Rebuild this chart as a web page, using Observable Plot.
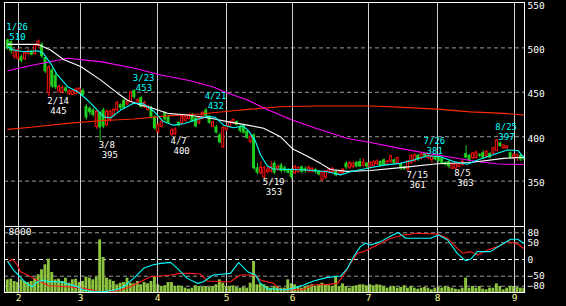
<!DOCTYPE html>
<html><head><meta charset="utf-8">
<script src="https://cdn.jsdelivr.net/npm/d3@7"></script>
<script src="https://cdn.jsdelivr.net/npm/@observablehq/plot@0.6"></script>
<style>
html,body{margin:0;padding:0;background:#000;}
#chart{position:relative;width:566px;height:306px;background:#000;overflow:hidden;}
#chart svg{position:absolute;left:0;top:0;}
</style></head><body><div id="chart"></div>
<script>
// ---- data (trading-day index 0 = 1/26) ----
const openP = [509,507,490,488,490,487,493,496,493,502, 504,489,449,475,469,451,450,455,448,447, 448,449,452,434,432,430,411,427,430,413, 419,424,430,436,441,436,439,452,437,444, 433,430,432,422,405,411,427,422,402,403, 416,415,418,420,424,421,415,420,430,423, 411,411,402,388,408,411,415,417,411,413, 406,394,402,365,359,354,360,361,370,363, 368,365,363,363,359,360,366,364,361,361, 363,361,351,354,360,360,361,357,359,370, 365,366,371,372,367,370,365,367,369,372, 374,368,372,374,370,369,366,363,370,372, 379,376,381,376,374,377,378,376,371,372, 364,364,366,368,381,379,376,376,380,382, 378,381,381,384,393,387,387,382,376,376, 379,377];
const highP = [510,508,498,499,492,496,498,497,504,509, 506,490,480,477,472,458,457,456,453,453, 455,455,454,436,434,432,430,428,432,430, 430,432,440,437,442,441,451,453,443,445, 440,435,434,424,415,419,428,424,409,410, 417,424,423,426,426,422,422,428,432,424, 417,413,404,411,414,418,420,418,413,414, 407,402,403,370,372,366,367,372,372,368, 370,367,364,364,368,366,367,366,367,365, 364,362,361,362,364,365,362,361,364,372, 372,371,372,375,375,371,372,373,374,373, 375,373,379,375,377,370,367,373,380,381, 380,381,381,380,379,378,378,376,372,373, 370,370,370,373,390,380,382,384,381,384, 384,382,388,397,394,391,390,383,381,380, 380,378];
const lowP = [497,493,487,486,483,486,492,491,492,500, 488,471,445,454,453,449,448,449,446,446, 447,448,446,419,424,422,408,395,409,411, 416,422,428,430,431,435,438,442,436,432, 432,429,420,407,403,410,417,414,400,401, 411,414,416,419,416,410,414,419,422,414, 410,403,392,387,406,410,414,412,404,403, 397,392,362,357,357,353,358,359,357,361, 359,359,358,352,357,359,358,359,359,359, 358,356,350,352,358,358,355,356,358,363, 363,364,365,365,366,364,364,366,368,366, 367,367,370,369,369,362,362,361,369,371, 372,374,376,374,370,373,371,369,367,364, 363,363,365,367,375,371,374,375,376,375, 376,375,380,383,388,386,386,375,374,372, 372,373];
const closeP = [500,496,497,497,485,494,496,492,503,507, 490,473,478,456,455,456,455,451,451,451, 453,454,446,421,427,424,428,410,411,428, 428,430,438,432,432,439,450,444,441,433, 438,433,422,409,413,417,419,415,407,408, 412,422,422,424,417,411,421,427,423,415, 416,404,393,410,412,416,419,413,406,404, 398,400,364,359,365,365,363,365,359,366, 361,361,359,354,366,365,360,361,365,364, 360,357,360,361,363,364,356,360,363,365, 370,370,366,366,371,366,370,371,372,367, 368,372,378,370,376,364,363,372,378,379, 374,380,378,379,378,374,372,370,368,366, 369,369,369,372,376,373,381,382,378,376, 383,376,387,396,389,390,389,376,379,379, 374,374];
const volume = [1718,1808,1490,1356,1718,1490,1356,1490,1944,2396, 3074,3752,4520,2712,1718,1808,1490,1944,1266,1718, 1808,1356,1490,2080,1944,1718,2080,7140,4746,1944, 1718,1490,1040,1266,1356,1944,1266,1175,1490,1040, 1356,1175,1490,2080,1040,814,904,1356,1356,814, 904,814,588,452,588,904,814,723,814,678, 814,1040,1718,1266,814,814,904,678,588,678, 588,1266,4204,1040,1175,1040,814,588,814,814, 588,588,1718,1175,1040,814,588,814,904,1040, 814,1040,1266,1040,904,814,2080,814,1175,814, 588,814,904,1040,1040,904,1040,904,1040,994, 814,588,678,814,588,678,904,588,814,588, 452,588,678,588,362,588,678,588,814,678, 588,452,362,588,1944,588,814,588,814,452, 362,588,588,1175,814,362,588,814,814,678, 588,588];

// moving averages as [day index, price]
const maShort = [[0,501],[1.7,497.6],[4.6,495.7],[8.7,496.8],[10.4,494],[12.5,482.6],[14.5,469.5],[17.5,456.3],[20.4,450.7],[23.3,441.3],[26.2,430],[28,422.5],[30,421],[33,430],[36.8,437.6],[39.7,437],[42.6,429],[45.5,417],[48.4,413],[51.4,414.5],[55.5,419.6],[58.4,423],[60.7,421.8],[63.1,413],[66,410],[68.9,412],[70.5,406],[72.4,395],[73.9,379.4],[75.9,367],[77.7,363.6],[87.6,362.5],[93.5,360.6],[97.3,357],[100.2,360.6],[105.2,364.4],[109.9,368],[114.8,370],[118.7,373.8],[122.7,378.5],[126.5,377.5],[130.3,372],[134.4,369],[138.2,375],[143.2,381.3],[146.1,385],[149.1,384.5],[150.8,377]];
const maMid = [[0,504],[8.7,504],[12.5,497.6],[16.3,487],[21.3,479],[27.1,464],[32.1,449],[35,441],[38.8,435.7],[41.7,433],[46.7,426.3],[52.5,424.4],[59.3,420.7],[64.2,417],[70.1,413],[74.8,409.5],[79.7,400],[83.2,386.5],[87.6,378],[91.4,370],[94.4,363],[99.3,361],[106.1,362],[115.7,365.5],[125.6,369.5],[135.3,371],[145,375.6],[150.8,376.8]];
const maLong = [[0,474.3],[7.5,480.7],[17.5,488.3],[27,484.5],[36.8,477.4],[44.7,469.5],[53.4,463],[60.1,456],[64,449.5],[70.1,441.3],[74.8,432.3],[83.2,418.8],[89.4,410.4],[99.3,398],[106.1,393.5],[115.7,386],[125.6,379.4],[135.3,373.2],[143.2,369.3],[150.8,368.7]];
const maVeryLong = [[0,408.3],[7.5,411],[17.5,415],[27,418],[36.8,420],[46.7,423.5],[56.3,425.6],[66,429.3],[71,431],[79.7,433.8],[89.4,434.6],[106,434.6],[115.7,433],[125.6,431],[135.3,428],[145,426.3],[150.8,424.4]];

// oscillator lines (RCI-like, -100..100) as [day index, value]
const oscFast = [[0,-6.5],[1.7,-31.5],[3.7,-53.5],[6,-76.5],[7.2,-81.5],[8.7,-66.5],[10.4,-61.5],[11.9,-66.5],[15.6,-66.5],[17.5,-73.5],[20.4,-81.5],[22.1,-91.5],[25,-96.5],[28,-96.5],[31.5,-91.5],[33.8,-81.5],[36.8,-56.5],[39.7,-26.5],[42.3,-16.5],[44.7,-11.5],[47.6,-8.5],[49.6,-26.5],[50.5,-36.5],[52.5,-56.5],[55.5,-71.5],[57.2,-66.5],[60.1,-46.5],[63.1,-43.5],[65.1,-41.5],[67.5,-9.5],[70.1,-36.5],[72.4,-46.5],[73.9,-71.5],[75.9,-88.5],[78.9,-88.5],[80.6,-91.5],[83.5,-86.5],[86.5,-76.5],[89.4,-64.5],[93.5,-53.5],[97.3,-49.5],[99.3,-26.5],[101.1,8.5],[103.1,38.5],[104.6,48.5],[106.1,43.5],[109,53.5],[112,70.5],[114.2,80.5],[116.3,63.5],[123.6,63.5],[125.9,73.5],[128.6,58.5],[131.4,18.5],[133.8,-3.5],[135.3,0.5],[137.3,23.5],[141.1,23.5],[145,48.5],[147,60.5],[149.1,60.5],[150.8,48.5]];
const oscSlow = [[0,-6.5],[1.4,0.5],[2.8,-16.5],[3.7,-36.5],[5.8,-46.5],[7.5,-56.5],[9.6,-66.5],[11.9,-78.5],[17.5,-81.5],[22.1,-86.5],[27.1,-96.5],[30,-96.5],[33,-91.5],[35.9,-81.5],[38.8,-66.5],[41.7,-51.5],[44.7,-49.5],[47.6,-46.5],[50.5,-41.5],[53.4,-41.5],[56.3,-43.5],[58.4,-64.5],[63.1,-66.5],[65.1,-66.5],[68,-46.5],[71.8,-46.5],[73.9,-61.5],[77.7,-71.5],[79.7,-89.5],[83.5,-91.5],[86.5,-89.5],[89.4,-76.5],[93.5,-74.5],[96.4,-71.5],[98.2,-46.5],[100.2,-11.5],[102.2,18.5],[104,23.5],[106.1,33.5],[109,48.5],[112,63.5],[115.7,73.5],[119.8,78.5],[125.6,76.5],[128.6,63.5],[131.4,33.5],[133.2,18.5],[135.3,23.5],[137.3,13.5],[140.3,28.5],[143.2,38.5],[146.1,53.5],[149.1,46.5],[150.8,33.5]];

// annotations
const highIdx = [0, 37, 58, 122, 143];
const highDates = ["1/26", "3/23", "4/21", "7/26", "8/25"];
const highVals = [510, 453, 432, 381, 397];
const lowIdx = [12, 27, 48, 75, 117, 131];
const lowDates = ["2/14", "3/8", "4/7", "5/19", "7/15", "8/5"];
const lowVals = [445, 395, 400, 353, 361, 363];

// axes
const monthTicks = [3.13, 21.26, 43.77, 63.95, 83.25, 105.47, 125.64, 148.16];
const monthLabels = ["2", "3", "4", "5", "6", "7", "8", "9"];
const priceTicks = [350, 400, 450, 500, 550];
const priceGrid = [350, 400, 450, 500];
const oscTicks = [80, 50, 0, -50, -80];
const volTopLabel = "8000";

// ---- build ----
const W = 566, H = 306;
const xDomain = [-0.965, 151.08];
const FONT = "'DejaVu Sans Mono', monospace";
const style = {background: "transparent", color: "white", fontFamily: FONT, fontSize: "9.5px", overflow: "visible"};
const GREEN = "#1fcc1f", RED = "#ff1010";
const ANN = 9;

const candles = openP.map((o, i) => ({i, o, h: highP[i], l: lowP[i], c: closeP[i]}));
const ups = candles.filter(d => d.c >= d.o);
const downs = candles.filter(d => d.c < d.o);
const vols = volume.map((v, i) => ({i, v}));
const highs = highIdx.map((i, k) => ({i, date: highDates[k], v: highVals[k]}));
const lows = lowIdx.map((i, k) => ({i, date: lowDates[k], v: lowVals[k]}));

const common = {width: W, height: H, marginLeft: 4, marginRight: 42, style};

const pricePlot = Plot.plot({
  ...common, marginTop: 2, marginBottom: 80,
  x: {domain: xDomain, axis: null},
  y: {domain: [298.9, 551.1], axis: null},
  marks: [
    Plot.ruleY(priceGrid, {stroke: "#9a9a9a", strokeDasharray: "4,3"}),
    Plot.ruleX(monthTicks, {stroke: "#cfcfcf"}),
    Plot.axisY({anchor: "right", ticks: priceTicks, tickSize: 0, tickPadding: 3, dy: 2, color: "white", label: null, fontSize: 9.5}),
    Plot.ruleX(downs, {x: "i", y1: "l", y2: "h", stroke: GREEN}),
    Plot.ruleX(ups, {x: "i", y1: "l", y2: "h", stroke: RED}),
    Plot.rect(downs, {x1: d => d.i - 0.44, x2: d => d.i + 0.44, y1: "o", y2: "c", fill: GREEN}),
    Plot.rect(ups, {x1: d => d.i - 0.44, x2: d => d.i + 0.44, y1: "o", y2: "c", fill: "black", stroke: RED, insetLeft: 0.5, insetRight: 0.5}),
    Plot.line(maVeryLong, {x: d => d[0], y: d => d[1], stroke: "#ff2a00", strokeWidth: 1.1}),
    Plot.line(maLong, {x: d => d[0], y: d => d[1], stroke: "#ff00ff", strokeWidth: 1.1}),
    Plot.line(maMid, {x: d => d[0], y: d => d[1], stroke: "white", strokeWidth: 1.1}),
    Plot.line(maShort, {x: d => d[0], y: d => d[1], stroke: "#00ffff", strokeWidth: 1.1}),
    Plot.text(highs, {x: "i", y: "v", text: "date", fill: "#00ffff", textAnchor: "start", lineAnchor: "middle", dx: -1.5, dy: -12, fontSize: ANN}),
    Plot.text(highs, {x: "i", y: "v", text: d => String(d.v), fill: "#00ffff", textAnchor: "start", lineAnchor: "middle", dx: 1.5, dy: -2, fontSize: ANN}),
    Plot.text(lows, {x: "i", y: "v", text: "date", fill: "white", textAnchor: "start", lineAnchor: "middle", dx: -1.5, dy: 4, fontSize: ANN}),
    Plot.text(lows, {x: "i", y: "v", text: d => String(d.v), fill: "white", textAnchor: "start", lineAnchor: "middle", dx: 1.5, dy: 14, fontSize: ANN}),
    Plot.frame({stroke: "white"})
  ]
});

const oscScale = {domain: [-98.8, 98.8], axis: null};
const oscBase = Plot.plot({
  ...common, marginTop: 226, marginBottom: 14,
  x: {domain: xDomain, axis: null},
  y: oscScale,
  marks: [
    Plot.ruleY(oscTicks.filter(t => t !== 0), {stroke: "#9a9a9a", strokeDasharray: "4,3"}),
    Plot.ruleY([0], {stroke: "#f0f0f0", strokeDasharray: "4,3"}),
    Plot.axisY({anchor: "right", ticks: oscTicks, tickSize: 0, tickPadding: 3, color: "white", label: null, fontSize: 9.5}),
    Plot.axisX({anchor: "bottom", ticks: monthTicks, tickFormat: d => monthLabels[monthTicks.indexOf(d)], tickSize: 0, tickPadding: 2, color: "#ffff99", label: null, fontSize: 9.5}),
    Plot.text([volTopLabel], {frameAnchor: "top-left", textAnchor: "start", lineAnchor: "top", dx: 4, dy: 2, fill: "white", fontSize: 9.5})
  ]
});

const volPlot = Plot.plot({
  ...common, marginTop: 233, marginBottom: 14,
  x: {domain: xDomain, axis: null},
  y: {domain: [0, 8000], axis: null},
  marks: [
    Plot.rectY(vols, {x1: d => d.i - 0.42, x2: d => d.i + 0.42, y: "v", fill: "#8dc43f"})
  ]
});

const oscLines = Plot.plot({
  ...common, marginTop: 226, marginBottom: 14,
  x: {domain: xDomain, axis: null},
  y: oscScale,
  marks: [
    Plot.ruleX(monthTicks, {stroke: "#cfcfcf"}),
    Plot.line(oscSlow, {x: d => d[0], y: d => d[1], stroke: "#ff1a1a", strokeWidth: 1.1}),
    Plot.line(oscFast, {x: d => d[0], y: d => d[1], stroke: "#00ffff", strokeWidth: 1.1}),
    Plot.frame({stroke: "white"})
  ]
});

const el = document.getElementById("chart");
[oscBase, volPlot, oscLines, pricePlot].forEach(p => el.appendChild(p));
</script></body></html>
